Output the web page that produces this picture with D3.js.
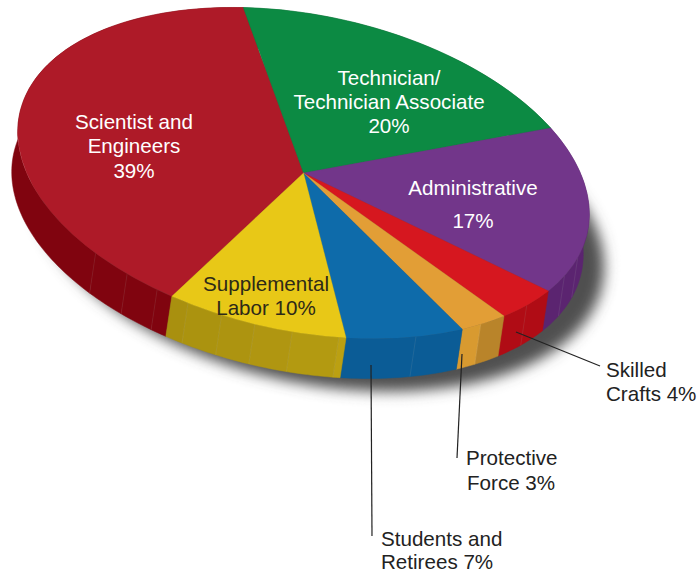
<!DOCTYPE html>
<html>
<head>
<meta charset="utf-8">
<script src="https://cdn.jsdelivr.net/npm/d3@7"></script>
<style>
  html, body { margin: 0; padding: 0; background: #fff; }
  svg { display: block; }
  text { font-family: "Liberation Sans", Arial, sans-serif; font-size: 20.6px; }
</style>
</head>
<body>
<svg id="chart" width="700" height="572"></svg>
<script>
// Workforce composition, percent of total, clockwise from the lower left
const categories = ["Scientist and Engineers", "Technician/Technician Associate", "Administrative",
                    "Skilled Crafts", "Protective Force", "Students and Retirees", "Supplemental Labor"];
const shares = [39, 20, 17, 4, 3, 7, 10];

const topColors = ["#ae1a28", "#0c8a43", "#72368a", "#d6171f", "#e29e36", "#0e6baa", "#e8c817"];
// Rim tones per slice, cycled through the facets of that slice
const rimColors = [
  ["#80040f"], ["#0a6a33"], ["#5b2470"], ["#b00c15"],
  ["#b9842a", "#d89a30"], ["#0b5c96"],
  ["#bba012", "#b39a11", "#b09611", "#ad9410", "#ab930f", "#a9900f"]
];
// Rim seams inside each slice, as fractions of that slice's sweep
const seamFractions = [
  [0.024, 0.076, 0.137], [], [0.76, 0.886], [0.527],
  [0.578], [0.42], [0.04, 0.3, 0.51, 0.7, 0.9]
];

const cx = 303.5, cy = 173;     // pie centre
const rx = 290, ry = 158;       // ellipse radii
const tilt = 11.7;              // ellipse rotation, degrees
const rimDx = -6, rimDy = 40;   // rim depth
const startDeg = 201;

const svg = d3.select("#chart");
const rad = d => d * Math.PI / 180;

const pie = d3.pie().sort(null)
  .startAngle(rad(startDeg)).endAngle(rad(startDeg + 360))
  .value(d => d);
const slices = pie(shares);

// Map a pie angle onto the tilted ellipse
function rimPoint(a) {
  const u = rx * Math.sin(a), v = -ry * Math.cos(a);
  const t = rad(tilt);
  return [cx + u * Math.cos(t) - v * Math.sin(t), cy + u * Math.sin(t) + v * Math.cos(t)];
}
const line = d3.line();

// Soft drop shadow
const defs = svg.append("defs");
defs.append("filter").attr("id", "soft")
  .attr("x", "-20%").attr("y", "-20%").attr("width", "140%").attr("height", "140%")
  .append("feGaussianBlur").attr("stdDeviation", 7);

svg.append("ellipse")
  .attr("rx", rx).attr("ry", ry)
  .attr("transform", `translate(${cx + 15},${cy + 53}) rotate(${tilt})`)
  .attr("fill", "#505050")
  .attr("filter", "url(#soft)");

// Rim: one band per facet, painted beneath the top surface
const rim = svg.append("g");
const seams = [];
slices.forEach((s, i) => {
  const sweep = s.endAngle - s.startAngle;
  const inSlice = seamFractions[i].map(f => s.startAngle + f * sweep);
  seams.push(...inSlice);
  const stops = [s.startAngle, ...inSlice, s.endAngle];
  d3.pairs(stops).forEach(([a0, a1], k) => {
    const n = Math.max(2, Math.ceil((a1 - a0) / 0.02));
    const arc = d3.range(n + 1).map(j => rimPoint(a0 + (a1 - a0) * j / n));
    const lower = arc.slice().reverse().map(p => [p[0] + rimDx, p[1] + rimDy]);
    const tones = rimColors[i];
    const tone = tones[k % tones.length];
    rim.append("path")
      .attr("d", line([...arc, ...lower]) + "Z")
      .attr("fill", tone)
      .attr("stroke", tone)
      .attr("stroke-width", 0.5);
  });
});

// Faint seam lines over the rim
rim.selectAll("line.seam").data(seams).join("line")
  .attr("class", "seam")
  .attr("x1", a => rimPoint(a)[0]).attr("y1", a => rimPoint(a)[1])
  .attr("x2", a => rimPoint(a)[0] + rimDx).attr("y2", a => rimPoint(a)[1] + rimDy)
  .attr("stroke", "#ffffff").attr("stroke-opacity", 0.08).attr("stroke-width", 1);

// Top surface: a flat arc pushed through the ellipse transform
const arcGen = d3.arc().innerRadius(0).outerRadius(rx);
svg.append("g")
  .attr("transform", `translate(${cx},${cy}) rotate(${tilt}) scale(1,${ry / rx})`)
  .selectAll("path").data(slices).join("path")
  .attr("d", arcGen)
  .attr("fill", (d, i) => topColors[i])
  .attr("stroke", (d, i) => topColors[i])
  .attr("stroke-width", 0.4);

// Leader lines for the labels set outside the pie
const leaders = [
  [[516, 332], [600, 366]],
  [[462, 354], [457, 458]],
  [[371, 365], [372, 536]]
];
svg.append("g").selectAll("path").data(leaders).join("path")
  .attr("d", d => line(d))
  .attr("fill", "none").attr("stroke", "#222").attr("stroke-width", 1.2);

// Label text
const labels = [
  { t: "Scientist and", x: 134, y: 129, c: "#fff", a: "middle" },
  { t: "Engineers", x: 134, y: 153, c: "#fff", a: "middle" },
  { t: "39%", x: 134, y: 178, c: "#fff", a: "middle" },
  { t: "Technician/", x: 389, y: 85, c: "#fff", a: "middle" },
  { t: "Technician Associate", x: 389, y: 109, c: "#fff", a: "middle" },
  { t: "20%", x: 389, y: 133, c: "#fff", a: "middle" },
  { t: "Administrative", x: 473, y: 195, c: "#fff", a: "middle" },
  { t: "17%", x: 473, y: 228, c: "#fff", a: "middle" },
  { t: "Supplemental", x: 266, y: 291, c: "#2e2a18", a: "middle" },
  { t: "Labor 10%", x: 266, y: 315, c: "#2e2a18", a: "middle" },
  { t: "Skilled", x: 606, y: 377, c: "#222", a: "start" },
  { t: "Crafts 4%", x: 606, y: 401, c: "#222", a: "start" },
  { t: "Protective", x: 466, y: 465, c: "#222", a: "start" },
  { t: "Force 3%", x: 467, y: 490, c: "#222", a: "start" },
  { t: "Students and", x: 381, y: 546, c: "#222", a: "start" },
  { t: "Retirees 7%", x: 381, y: 569, c: "#222", a: "start" }
];
svg.append("g").selectAll("text").data(labels).join("text")
  .attr("x", d => d.x).attr("y", d => d.y)
  .attr("text-anchor", d => d.a)
  .attr("fill", d => d.c)
  .text(d => d.t);
</script>
</body>
</html>
